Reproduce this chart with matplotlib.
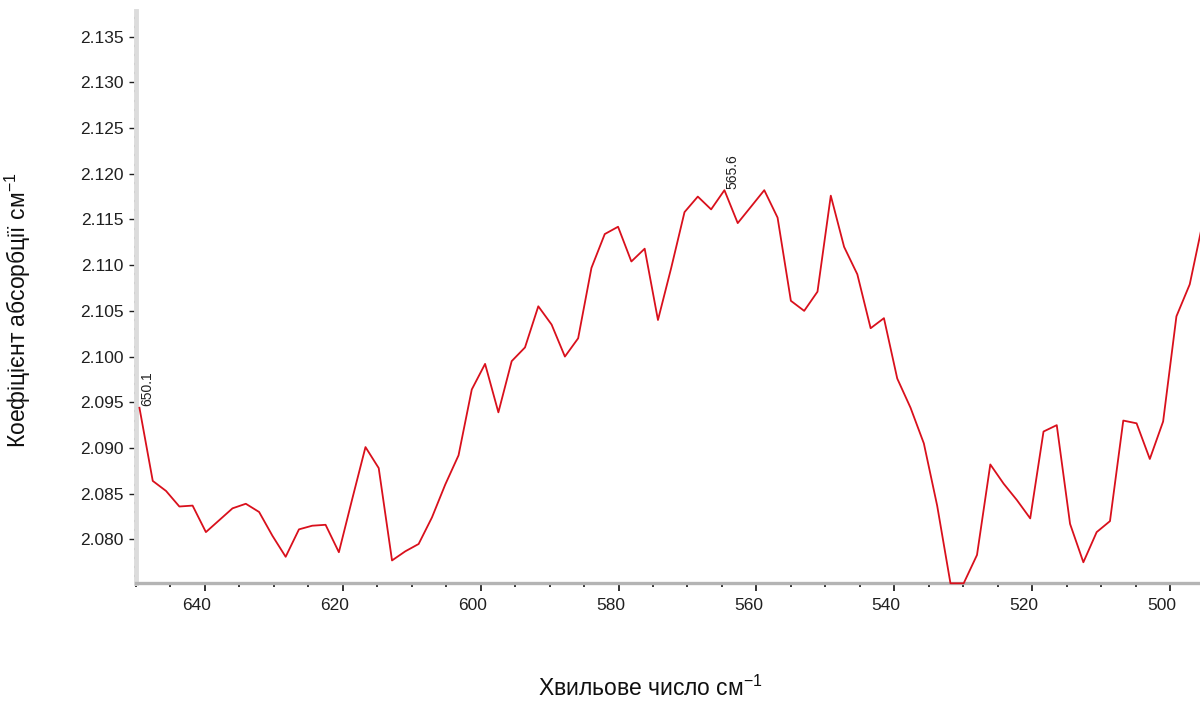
import matplotlib
matplotlib.use("Agg")
import matplotlib.pyplot as plt
import matplotlib.transforms as mtransforms
from matplotlib.ticker import MultipleLocator, FormatStrFormatter

FAM = 'Liberation Sans'
plt.rcParams['font.family'] = [FAM, 'DejaVu Sans']
plt.rcParams['mathtext.fontset'] = 'custom'
plt.rcParams['mathtext.rm'] = FAM
plt.rcParams['mathtext.default'] = 'regular'

# wavenumber (cm^-1)
wavenumber = [649.50, 647.57, 645.64, 643.71, 641.79, 639.86, 637.93, 636.00, 634.07, 632.14,
              630.21, 628.29, 626.36, 624.43, 622.50, 620.57, 618.64, 616.71, 614.79, 612.86,
              610.93, 609.00, 607.07, 605.14, 603.21, 601.29, 599.36, 597.43, 595.50, 593.57,
              591.64, 589.71, 587.78, 585.86, 583.93, 582.00, 580.07, 578.14, 576.21, 574.28,
              572.36, 570.43, 568.50, 566.57, 564.64, 562.71, 560.78, 558.86, 556.93, 555.00,
              553.07, 551.14, 549.21, 547.28, 545.36, 543.43, 541.50, 539.57, 537.64, 535.71,
              533.78, 531.85, 529.93, 528.00, 526.07, 524.14, 522.21, 520.28, 518.35, 516.43,
              514.50, 512.57, 510.64, 508.71, 506.78, 504.85, 502.93, 501.00, 499.07, 497.14,
              495.21]
# absorption coefficient
absorbance = [2.0944, 2.0864, 2.0853, 2.0836, 2.0837, 2.0808, 2.0821, 2.0834, 2.0839, 2.0830,
              2.0804, 2.0781, 2.0811, 2.0815, 2.0816, 2.0786, 2.0844, 2.0901, 2.0878, 2.0777,
              2.0787, 2.0795, 2.0824, 2.0860, 2.0892, 2.0964, 2.0992, 2.0939, 2.0995, 2.1010,
              2.1055, 2.1035, 2.1000, 2.1020, 2.1097, 2.1134, 2.1142, 2.1104, 2.1118, 2.1040,
              2.1097, 2.1158, 2.1175, 2.1161, 2.1182, 2.1146, 2.1164, 2.1182, 2.1152, 2.1061,
              2.1050, 2.1071, 2.1176, 2.1120, 2.1090, 2.1031, 2.1042, 2.0976, 2.0944, 2.0905,
              2.0837, 2.0752, 2.0752, 2.0783, 2.0882, 2.0861, 2.0843, 2.0823, 2.0918, 2.0925,
              2.0817, 2.0775, 2.0808, 2.0820, 2.0930, 2.0927, 2.0888, 2.0929, 2.1044, 2.1079,
              2.1148]

peak_index = [0, 44]
peak_labels = ['650.1', '565.6']

x_label = 'Хвильове число см$^{-1}$'
y_label = 'Коефіцієнт абсорбції см$^{-1}$'

fig = plt.figure(figsize=(12, 7.01), dpi=100)
ax = fig.add_axes([136/1200, (701-583.3)/701, 1064/1200, (583.3-11)/701])

ax.set_xlim(650.0, 495.65)
ax.set_ylim(2.0752, 2.1378)

ax.plot(wavenumber, absorbance, color='#d9101c', lw=1.3, clip_on=False, zorder=3)

for i, lab in zip(peak_index, peak_labels):
    ax.annotate(lab, xy=(wavenumber[i], absorbance[i]), xytext=(0.5, 1),
                textcoords='offset points', rotation=90, ha='left', va='bottom',
                fontsize=10, color='#202020')

ax.xaxis.set_major_locator(MultipleLocator(20))
ax.xaxis.set_minor_locator(MultipleLocator(5))
ax.yaxis.set_major_locator(MultipleLocator(0.005))
ax.yaxis.set_minor_locator(MultipleLocator(0.001))
ax.yaxis.set_major_formatter(FormatStrFormatter('%.3f'))

for s in ('top', 'right'):
    ax.spines[s].set_visible(False)
ax.spines['bottom'].set_color('#b4b4b4')
ax.spines['bottom'].set_linewidth(2.4)
ax.spines['left'].set_color('#dcdcdc')
ax.spines['left'].set_linewidth(3.5)

ax.tick_params(axis='x', which='major', direction='out', length=5.5, width=1.2,
               color='#101010', pad=5, labelsize=12.5, labelcolor='#202020')
ax.tick_params(axis='x', which='minor', direction='out', length=3, width=1.2, color='#101010')
ax.tick_params(axis='y', which='major', direction='out', length=5, width=1.0,
               color='#202020', pad=4, labelsize=12.5, labelcolor='#202020')
ax.tick_params(axis='y', which='minor', direction='inout', length=2.5, width=1.6, color='#404040')

fig.text(650/1200, 1-688/701, x_label, ha='center', va='center', fontsize=16.5, color='#101010')
fig.text(18/1200, 1-310/701, y_label, ha='center', va='center', rotation=90,
         fontsize=16.5, color='#101010')

fig.canvas.draw()
offset = mtransforms.ScaledTranslation(-8/100, 0, fig.dpi_scale_trans)
for tick in ax.xaxis.get_major_ticks():
    tick.label1.set_transform(tick.label1.get_transform() + offset)

fig.savefig('out.png', dpi=100, facecolor='white')
